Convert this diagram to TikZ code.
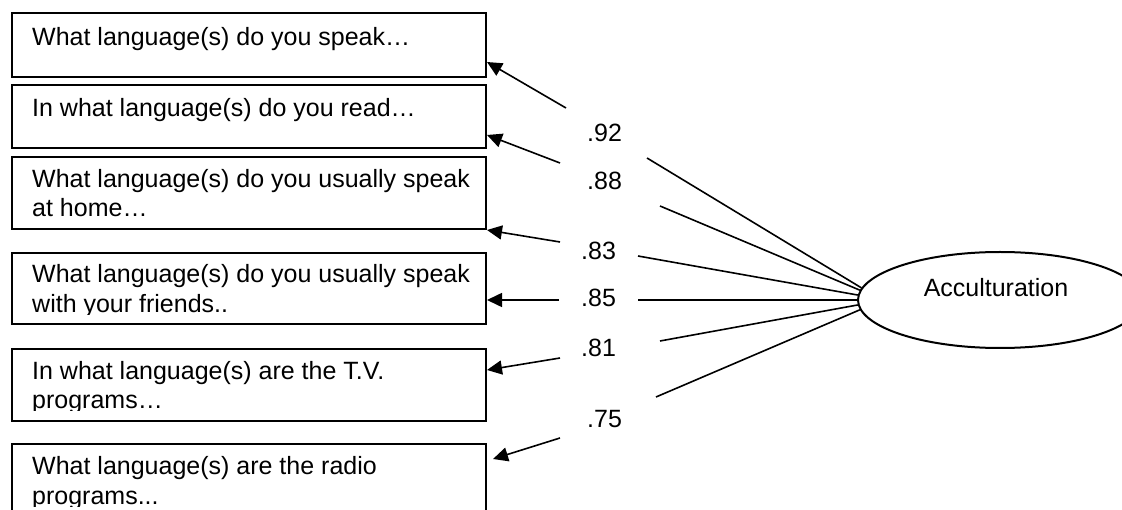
\documentclass[tikz,border=0pt]{standalone}
\usepackage{fontspec}
\setmainfont{Liberation Sans}
\usetikzlibrary{shapes.geometric,arrows.meta}

\begin{document}
\begin{tikzpicture}[x=1pt,y=-1pt,
  every node/.style={font=\fontsize{25}{29}\selectfont},
  itembox/.style={draw,line width=2pt,minimum width=474pt,inner sep=0pt,anchor=north west},
  itemtext/.style={anchor=base west,inner sep=0pt},
  loading/.style={anchor=base west,inner sep=0pt},
  latent/.style={draw,ellipse,line width=2pt,minimum width=284pt,minimum height=96pt,inner sep=0pt},
  link/.style={line width=1.6pt},
  arrowlink/.style={link,-{Triangle[length=15pt,width=14pt]}}]

% canvas
\useasboundingbox (0,0) rectangle (1122,510);
\fill[white] (0,0) rectangle (1122,510);
\clip (0,0) rectangle (1122,510);

% indicator boxes
\node[itembox,minimum height=64pt] (b1) at (11,12) {};
\node[itembox,minimum height=63pt] (b2) at (11,84) {};
\node[itembox,minimum height=72pt] (b3) at (11,156) {};
\node[itembox,minimum height=71pt] (b4) at (11,252) {};
\node[itembox,minimum height=72pt] (b5) at (11,348) {};
\node[itembox,minimum height=75pt] (b6) at (11,443) {};

% item wording, cut off at the text frame of each box
\begin{scope}
  \clip (b1.north west) rectangle ([yshift=-63pt]b1.north east);
  \node[itemtext] (q1a) at (32,46) {What language(s) do you speak…};
\end{scope}
\begin{scope}
  \clip (b2.north west) rectangle ([yshift=-63pt]b2.north east);
  \node[itemtext] (q2a) at (32,117) {In what language(s) do you read…};
\end{scope}
\begin{scope}
  \clip (b3.north west) rectangle ([yshift=-63pt]b3.north east);
  \node[itemtext] (q3a) at (32,188) {What language(s) do you usually speak};
  \node[itemtext] (q3b) at (32,217) {at home…};
\end{scope}
\begin{scope}
  \clip (b4.north west) rectangle ([yshift=-63pt]b4.north east);
  \node[itemtext] (q4a) at (32,283) {What language(s) do you usually speak};
  \node[itemtext] (q4b) at (32,313) {with your friends..};
\end{scope}
\begin{scope}
  \clip (b5.north west) rectangle ([yshift=-63pt]b5.north east);
  \node[itemtext] (q5a) at (32,380) {In what language(s) are the T.V.};
  \node[itemtext] (q5b) at (32,409) {programs…};
\end{scope}
\begin{scope}
  \clip (b6.north west) rectangle ([yshift=-63pt]b6.north east);
  \node[itemtext] (q6a) at (32,475) {What language(s) are the radio};
  \node[itemtext] (q6b) at (32,504) {programs...};
\end{scope}

% latent factor
\node[latent] (acc) at (1000,300) {};
\node[anchor=base,inner sep=0pt] (acclabel) at (996,297) {Acculturation};

% loadings
\node[loading] (l1) at (587,142) {.92};
\node[loading] (l2) at (587,190) {.88};
\node[loading] (l3) at (581,260) {.83};
\node[loading] (l4) at (581,307) {.85};
\node[loading] (l5) at (581,357) {.81};
\node[loading] (l6) at (587,428) {.75};

% factor side of each path
\coordinate (e1) at (647,158);
\coordinate (e2) at (660,206);
\coordinate (e3) at (638,256);
\coordinate (e4) at (638,300);
\coordinate (e5) at (660,341);
\coordinate (e6) at (656,397);
\draw[link] (acc.175) -- (e1);
\draw[link] (acc.176) -- (e2);
\draw[link] (acc.178) -- (e3);
\draw[link] (acc.180) -- (e4);
\draw[link] (acc.182) -- (e5);
\draw[link] (acc.184) -- (e6);

% indicator side of each path
\coordinate (s1) at (566,108);
\coordinate (s2) at (560,163);
\coordinate (s3) at (560,242);
\coordinate (s4) at (559,300);
\coordinate (s5) at (560,358);
\coordinate (s6) at (560,438);
\draw[arrowlink] (s1) -- ([yshift=16pt]b1.south east);
\draw[arrowlink] (s2) -- ([yshift=14pt]b2.south east);
\draw[arrowlink] (s3) -- (b3.south east);
\draw[arrowlink] (s4) -- ([yshift=-48pt]b4.north east);
\draw[arrowlink] (s5) -- ([yshift=-22pt]b5.north east);
\draw[arrowlink] (s6) -- ([xshift=6pt,yshift=-16pt]b6.north east);
\end{tikzpicture}
\end{document}
